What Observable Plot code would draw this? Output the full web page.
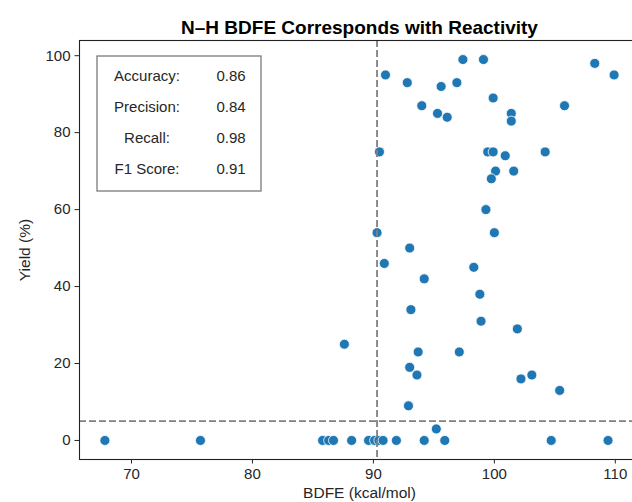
<!DOCTYPE html>
<html>
<head>
<meta charset="utf-8">
<script src="https://cdn.jsdelivr.net/npm/d3@7"></script>
<script src="https://cdn.jsdelivr.net/npm/@observablehq/plot@0.6"></script>
<style>
  html, body { margin: 0; padding: 0; background: white; overflow: hidden; }
</style>
</head>
<body>
<div id="chart"></div>
<script>
const titleText = "N–H BDFE Corresponds with Reactivity";
const xLabel = "BDFE (kcal/mol)";
const yLabel = "Yield (%)";

const bdfe = [
  91.0, 92.8, 95.6, 96.9, 97.4, 99.1, 108.3, 109.9, 99.9, 94.0,
  95.3, 96.1, 101.4, 101.4, 105.8, 90.5, 99.45, 99.9, 100.9, 104.2,
  100.1, 101.6, 99.75, 99.3, 90.3, 100.0, 93.0, 90.9, 98.3, 94.2,
  98.8, 93.1, 98.9, 101.9, 87.6, 93.7, 97.1, 93.0, 93.6, 102.2,
  103.1, 105.4, 92.9, 95.2,
  67.8, 75.7, 85.8, 86.3, 86.7, 88.2, 89.6, 90.1, 90.45, 90.8,
  91.9, 94.2, 95.9, 104.7, 109.4
];
const yieldPct = [
  95, 93, 92, 93, 99, 99, 98, 95, 89, 87,
  85, 84, 85, 83, 87, 75, 75, 75, 74, 75,
  70, 70, 68, 60, 54, 54, 50, 46, 45, 42,
  38, 34, 31, 29, 25, 23, 23, 19, 17, 16,
  17, 13, 9, 3,
  0, 0, 0, 0, 0, 0, 0, 0, 0, 0,
  0, 0, 0, 0, 0
];

const bdfeThreshold = [90.3];
const yieldThreshold = [5];

const xTicks = [70, 80, 90, 100, 110];
const yTicks = [0, 20, 40, 60, 80, 100];

const metricNames = ["Accuracy:", "Precision:", "Recall:", "F1 Score:"];
const metricValues = [0.86, 0.84, 0.98, 0.91];

const points = bdfe.map((x, i) => ({x, y: yieldPct[i]}));

function metricsBox(index, scales, values, dimensions) {
  const g = d3.create("svg:g");
  const left = dimensions.marginLeft + 18;
  const top = dimensions.marginTop + 16;
  g.append("rect")
    .attr("x", left).attr("y", top)
    .attr("width", 164).attr("height", 135)
    .attr("fill", "white")
    .attr("stroke", "#7a7a7a")
    .attr("stroke-width", 1.3);
  metricNames.forEach((name, i) => {
    const cy = top + 19.5 + i * 31.2;
    g.append("text")
      .attr("x", left + 50).attr("y", cy)
      .attr("dy", "0.35em")
      .attr("text-anchor", "middle")
      .attr("font-size", 15)
      .attr("fill", "#262626")
      .text(name);
    g.append("text")
      .attr("x", left + 134).attr("y", cy)
      .attr("dy", "0.35em")
      .attr("text-anchor", "middle")
      .attr("font-size", 15)
      .attr("fill", "#262626")
      .text(metricValues[i].toFixed(2));
  });
  return g.node();
}

const chart = Plot.plot({
  width: 632,
  height: 502,
  marginLeft: 79,
  marginRight: -7,
  marginTop: 40,
  marginBottom: 43,
  style: {fontFamily: "'Liberation Sans', Arial, sans-serif", fontSize: "15px", color: "#262626", background: "white"},
  x: {domain: [65.7, 112.0]},
  y: {domain: [-4.95, 103.95]},
  marks: [
    Plot.dot(points, {x: "x", y: "y", r: 5, fill: "#1f77b4", stroke: "white", strokeWidth: 0.8}),
    Plot.ruleX(bdfeThreshold, {stroke: "#808080", strokeWidth: 1.8, strokeDasharray: "7,3"}),
    Plot.ruleY(yieldThreshold, {stroke: "#808080", strokeWidth: 1.8, strokeDasharray: "7,3"}),
    Plot.frame({stroke: "#222", strokeWidth: 1.1}),
    Plot.axisX({ticks: xTicks, tickSize: 4.5, tickPadding: 4.5, fontSize: 15, label: null}),
    Plot.axisX({ticks: [], label: xLabel, labelAnchor: "center", labelArrow: "none", labelOffset: 38, fontSize: 15.5}),
    Plot.axisY({ticks: yTicks, tickSize: 4.5, tickPadding: 4.5, fontSize: 15, label: null}),
    Plot.axisY({ticks: [], label: yLabel, labelAnchor: "center", labelArrow: "none", labelOffset: 61, fontSize: 15.5}),
    metricsBox,
    Plot.text([titleText], {text: d => d, frameAnchor: "top", lineAnchor: "bottom", dy: -7, fontSize: 19, fontWeight: "bold", fill: "#000"})
  ]
});
document.getElementById("chart").appendChild(chart);
</script>
</body>
</html>
